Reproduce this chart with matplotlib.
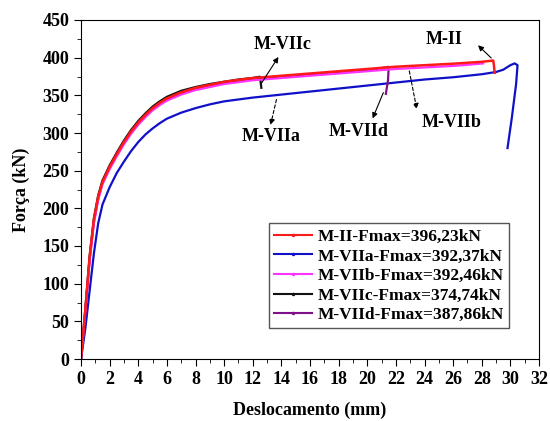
import matplotlib.pyplot as plt
import numpy as np
from matplotlib.lines import Line2D

plt.rcParams['font.family'] = ['Liberation Serif', 'DejaVu Serif']
plt.rcParams['font.weight'] = 'bold'

# ------------------------------------------------ dados ------------------------------------------
m2_x = [0, 0.3, 0.6, 0.9, 1.2, 1.5, 2, 2.5, 3, 3.5, 4, 4.5, 5, 5.5, 6, 7, 8, 9, 10, 12, 14, 16, 18, 20, 22, 24, 26,
        28, 28.8, 28.85, 28.9]
m2_y = [0, 65, 135, 185, 215, 235, 255, 272, 288, 302, 314, 324, 333, 340, 346, 354, 360, 364, 368, 373, 376, 379,
        382, 385, 388, 390, 392, 394.5, 396.2, 390, 380]

m7a_x = [0, 0.3, 0.6, 0.9, 1.2, 1.5, 2, 2.5, 3, 3.5, 4, 4.5, 5, 5.5, 6, 7, 8, 9, 10, 12, 14, 16, 18, 20, 22, 24, 26,
         28, 29, 29.5, 30, 30.3, 30.5, 30.4, 30.1, 29.8]
m7a_y = [0, 40, 90, 140, 180, 205, 228, 247, 262, 276, 288, 298, 306, 313, 319, 327, 333, 338, 342, 347, 351, 355,
         359, 363, 367, 371, 374, 378, 381, 384, 390, 392.4, 390, 365, 320, 280]

m7b_x = [0, 0.3, 0.6, 0.9, 1.2, 1.5, 2, 2.5, 3, 3.5, 4, 4.5, 5, 5.5, 6, 7, 8, 9, 10, 12, 14, 16, 18, 20, 22, 24, 26,
         27, 28.1]
m7b_y = [0, 62, 130, 180, 211, 232, 252, 269, 285, 299, 311, 321, 330, 337, 343, 351, 357, 361, 365, 370, 373, 376,
         379, 382, 385, 387, 389, 390.5, 392.4]

m7c_x = [0, 0.3, 0.6, 0.9, 1.2, 1.5, 2, 2.5, 3, 3.5, 4, 4.5, 5, 5.5, 6, 7, 8, 9, 10, 11, 12, 12.5, 12.55, 12.6]
m7c_y = [0, 66, 136, 187, 217, 237, 257, 274, 290, 304, 316, 326, 335, 342, 348, 356, 361, 365, 368, 371, 373,
         374.7, 368, 360]

m7d_x = [0, 0.3, 0.6, 0.9, 1.2, 1.5, 2, 2.5, 3, 3.5, 4, 4.5, 5, 5.5, 6, 7, 8, 9, 10, 12, 14, 16, 18, 20, 21.5,
         21.45, 21.3]
m7d_y = [0, 63, 132, 182, 213, 234, 254, 271, 287, 301, 313, 323, 332, 339, 345, 353, 359, 363, 366, 371, 374,
         377, 380, 383, 387.9, 370, 352]

labels = ['M-II-Fmax=396,23kN', 'M-VIIa-Fmax=392,37kN', 'M-VIIb-Fmax=392,46kN',
          'M-VIIc-Fmax=374,74kN', 'M-VIId-Fmax=387,86kN']
colors = ['#ff1a1a', '#1010c8', '#ff33ff', '#111111', '#80108a']

# ------------------------------------------------ gráfico -----------------------------------------------------------
fig = plt.figure(figsize=(5.5, 4.21), dpi=100)
ax = fig.add_axes([81 / 550, 62 / 421, 458 / 550, 339 / 421])

ax.plot(m7a_x, m7a_y, color=colors[1], lw=1.6)
ax.plot(m7d_x, m7d_y, color=colors[4], lw=1.6)
ax.plot(m7c_x, m7c_y, color=colors[3], lw=1.6)
ax.plot(m7b_x, m7b_y, color=colors[2], lw=1.6)
ax.plot(m2_x, m2_y, color=colors[0], lw=1.8)

ax.set_xlim(0, 32)
ax.set_ylim(0, 450)
ax.set_xticks(np.arange(0, 33, 2))
ax.set_xticks(np.arange(0, 33, 1), minor=True)
ax.set_yticks(np.arange(0, 451, 50))
ax.set_yticks(np.arange(0, 451, 25), minor=True)
ax.tick_params(which='both', direction='out', top=False, right=False, labelsize=13)
ax.tick_params(which='major', length=5)
ax.tick_params(which='minor', length=3)
for lb in ax.get_xticklabels() + ax.get_yticklabels():
    lb.set_fontweight('bold')

ax.set_xlabel('Deslocamento (mm)', fontsize=13, fontweight='bold', labelpad=10)
ax.set_ylabel('Força (kN)', fontsize=13, fontweight='bold', labelpad=9)

# legenda
handles = [Line2D([0], [0], color=c, lw=1.5, marker='.', markersize=3) for c in colors]
ax.legend(handles, labels, loc='lower right', bbox_to_anchor=(0.935, 0.09), frameon=True,
          fancybox=False, edgecolor='#555555', framealpha=1, handlelength=2.2, handletextpad=0.3,
          labelspacing=0.2, borderpad=0.3, borderaxespad=0, numpoints=1, prop={'weight': 'bold', 'size': 12.5})

# anotações
txt = dict(fontsize=13, fontweight='bold', ha='center', va='center')
ax.text(14.1, 417, 'M-VIIc', **txt)
ax.text(25.4, 424, 'M-II', **txt)
ax.text(13.3, 295, 'M-VIIa', **txt)
ax.text(19.4, 302, 'M-VIId', **txt)
ax.text(25.9, 314, 'M-VIIb', **txt)

solid = dict(arrowstyle='-|>', color='black', lw=0.8, mutation_scale=8)
dashed = dict(arrowstyle='-|>', color='black', lw=0.8, mutation_scale=8, linestyle=(0, (3, 2)))
ax.annotate('', xy=(13.9, 404), xytext=(12.5, 363), arrowprops=solid)
ax.annotate('', xy=(27.6, 419), xytext=(28.8, 397), arrowprops=solid)
ax.annotate('', xy=(13.2, 307), xytext=(13.7, 348), arrowprops=dashed)
ax.annotate('', xy=(20.3, 316), xytext=(21.2, 357), arrowprops=solid)
ax.annotate('', xy=(23.5, 328), xytext=(22.9, 386), arrowprops=dashed)

fig.savefig('out.png', dpi=100)
